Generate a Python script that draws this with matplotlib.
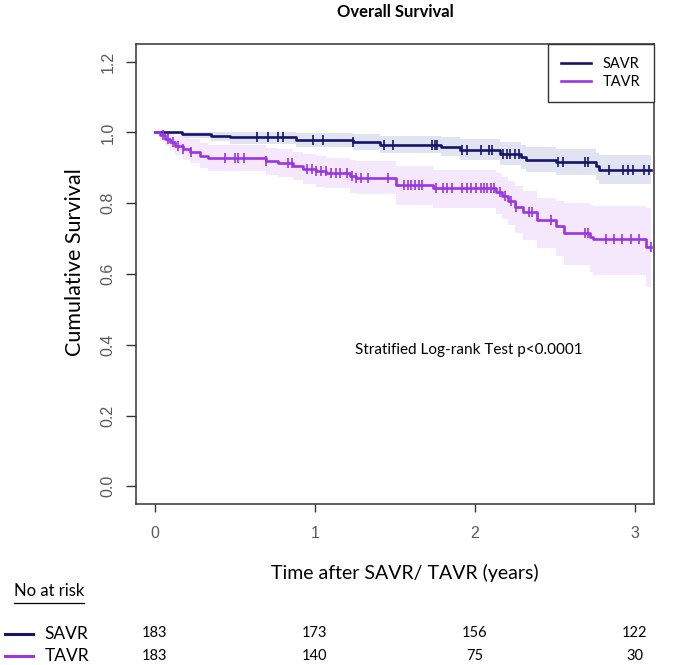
import numpy as np
import matplotlib
matplotlib.use("Agg")
import matplotlib.pyplot as plt
from matplotlib.transforms import blended_transform_factory
from matplotlib.lines import Line2D

# Kaplan-Meier step estimates
savr_t = [0, 0.167, 0.354, 0.469, 0.885, 1.24, 1.41, 1.79, 1.906, 2.156, 2.29, 2.32, 2.51, 2.76, 2.78]
savr_s = [1.0, 0.996, 0.991, 0.986, 0.978, 0.973, 0.965, 0.960, 0.951, 0.940, 0.930, 0.923, 0.916, 0.904, 0.893]
savr_lo = [1.0, 0.985, 0.976, 0.968, 0.958, 0.951, 0.941, 0.934, 0.922, 0.909, 0.896, 0.888, 0.879, 0.865, 0.853]
savr_up = [1.0, 1.0, 1.0, 1.0, 0.998, 0.996, 0.990, 0.986, 0.980, 0.972, 0.964, 0.960, 0.953, 0.943, 0.935]
savr_cens = [0.64, 0.71, 0.77, 0.80, 0.99, 1.05, 1.24, 1.43, 1.49, 1.733, 1.75, 1.765, 1.92, 1.95,
             2.04, 2.09, 2.11, 2.18, 2.20, 2.22, 2.25, 2.28, 2.52, 2.55, 2.69, 2.71, 2.84,
             2.93, 2.96, 2.99, 3.06, 3.09]

tavr_t = [0, 0.031, 0.063, 0.094, 0.125, 0.177, 0.219, 0.281, 0.333, 0.698, 0.771, 0.865, 0.927,
          1.01, 1.073, 1.22, 1.26, 1.51, 1.74, 2.135, 2.17, 2.21, 2.25, 2.30, 2.39, 2.51, 2.56,
          2.72, 2.74, 3.07]
tavr_s = [1.0, 0.993, 0.981, 0.972, 0.962, 0.953, 0.946, 0.934, 0.927, 0.918, 0.914, 0.906, 0.897,
          0.890, 0.886, 0.876, 0.872, 0.852, 0.843, 0.832, 0.820, 0.806, 0.790, 0.775, 0.752, 0.736,
          0.716, 0.704, 0.698, 0.675]
tavr_lo = [1.0, 0.980, 0.962, 0.950, 0.935, 0.922, 0.913, 0.899, 0.890, 0.880, 0.875, 0.866, 0.855,
           0.847, 0.842, 0.830, 0.825, 0.795, 0.785, 0.770, 0.755, 0.738, 0.715, 0.697, 0.672, 0.650,
           0.625, 0.607, 0.598, 0.563]
tavr_up = [1.0, 1.0, 1.0, 0.995, 0.990, 0.985, 0.980, 0.970, 0.964, 0.956, 0.952, 0.946, 0.938,
           0.932, 0.929, 0.921, 0.918, 0.904, 0.895, 0.885, 0.875, 0.862, 0.848, 0.835, 0.815, 0.805,
           0.800, 0.795, 0.792, 0.785]
tavr_cens = [0.052, 0.083, 0.115, 0.146, 0.177, 0.229, 0.438, 0.50, 0.52, 0.56, 0.698, 0.83, 0.86,
             0.95, 0.98, 1.01, 1.04, 1.07, 1.10, 1.13, 1.16, 1.20, 1.23, 1.26, 1.29, 1.33, 1.46,
             1.56, 1.58, 1.60, 1.625, 1.65, 1.67, 1.76, 1.80, 1.83, 1.86, 1.92, 1.95, 1.98, 2.01,
             2.04, 2.06, 2.08, 2.10, 2.12, 2.16, 2.19, 2.23, 2.26, 2.34, 2.36, 2.48, 2.69, 2.71,
             2.82, 2.87, 2.92, 2.98, 3.03, 3.10]

followup_end = 3.1
risk_times = [0, 1, 2, 3]
savr_risk = [183, 173, 156, 122]
tavr_risk = [183, 140, 75, 30]

c_savr = "#15156b"
c_tavr = "#9a35e2"
band_savr = "#e1e3f0"
band_tavr = "#f5e8fc"

fig = plt.figure(figsize=(6.74, 6.65), dpi=100)
ax = fig.add_axes([0.2013, 0.242, 0.7687, 0.692])

def draw_group(t, s, lo, up, cens, col, band, label):
    t = list(t) + [followup_end]
    s = list(s) + [s[-1]]
    lo = list(lo) + [lo[-1]]
    up = list(up) + [up[-1]]
    ax.fill_between(t, lo, up, step="post", color=band, lw=0, zorder=1)
    ax.step(t, s, where="post", color=col, lw=1.9, label=label, zorder=3)
    idx = np.searchsorted(t, cens, side="right") - 1
    ax.plot(cens, np.array(s)[idx], ls="none", marker="|", ms=7, mew=1.2, color=col, zorder=4)

draw_group(savr_t, savr_s, savr_lo, savr_up, savr_cens, c_savr, band_savr, "SAVR")
draw_group(tavr_t, tavr_s, tavr_lo, tavr_up, tavr_cens, c_tavr, band_tavr, "TAVR")

ax.set_xlim(-0.12, 3.12)
ax.set_ylim(-0.05, 1.25)
ax.set_xticks(risk_times)
ax.set_yticks([0.0, 0.2, 0.4, 0.6, 0.8, 1.0, 1.2])
ax.set_yticklabels(["0.0", "0.2", "0.4", "0.6", "0.8", "1.0", "1.2"], rotation=90, va="center")
ax.tick_params(axis="x", length=6, width=1, colors="#333333", pad=10, labelsize=11.5,
               labelcolor="#5a5a5a")
ax.tick_params(axis="y", length=7.5, width=1, colors="#333333", pad=7, labelsize=11.5,
               labelcolor="#5a5a5a")
for lab in ax.get_xticklabels() + ax.get_yticklabels():
    lab.set_family("Liberation Sans")
for sp in ax.spines.values():
    sp.set_color("#333333")
    sp.set_linewidth(1.1)

leg = ax.legend(loc="upper right", fancybox=False, edgecolor="#333333", framealpha=1,
                borderaxespad=0, handlelength=2.05, handletextpad=0.8, borderpad=0.9,
                labelspacing=0.25, prop={"family": "Lato", "size": 10.5})
leg.get_frame().set_linewidth(1.0)

ax.text(0.643, 0.335, "Stratified Log-rank Test p<0.0001", transform=ax.transAxes,
        ha="center", va="center", family="Lato", fontsize=11)

fig.text(0.586, 0.982, "Overall Survival", ha="center", va="center", family="Lato",
         fontsize=12, weight="bold")
fig.text(0.111, 0.606, "Cumulative Survival", rotation=90, ha="center", va="center",
         family="Lato", fontsize=15.5)
fig.text(0.600, 0.138, "Time after SAVR/ TAVR (years)", ha="center", va="center",
         family="Lato", fontsize=14)

fig.text(0.021, 0.111, "No at risk", ha="left", va="center", family="Lato", fontsize=12)
fig.add_artist(Line2D([0.021, 0.124], [0.093, 0.093], color="black", lw=0.9))

tr = blended_transform_factory(ax.transData, fig.transFigure)
rows = [(savr_risk, "SAVR", c_savr, 0.047), (tavr_risk, "TAVR", c_tavr, 0.013)]
for vals, name, col, yy in rows:
    fig.add_artist(Line2D([0.007, 0.049], [yy, yy], color=col, lw=2.2))
    fig.text(0.066, yy, name, ha="left", va="center", family="Lato", fontsize=12.5)
    for tt, v in zip(risk_times, vals):
        ax.text(tt, yy + 0.001, str(v), transform=tr, ha="center", va="center",
                family="Lato", fontsize=10.5, clip_on=False)

fig.savefig("out.png", dpi=100, facecolor="white")
